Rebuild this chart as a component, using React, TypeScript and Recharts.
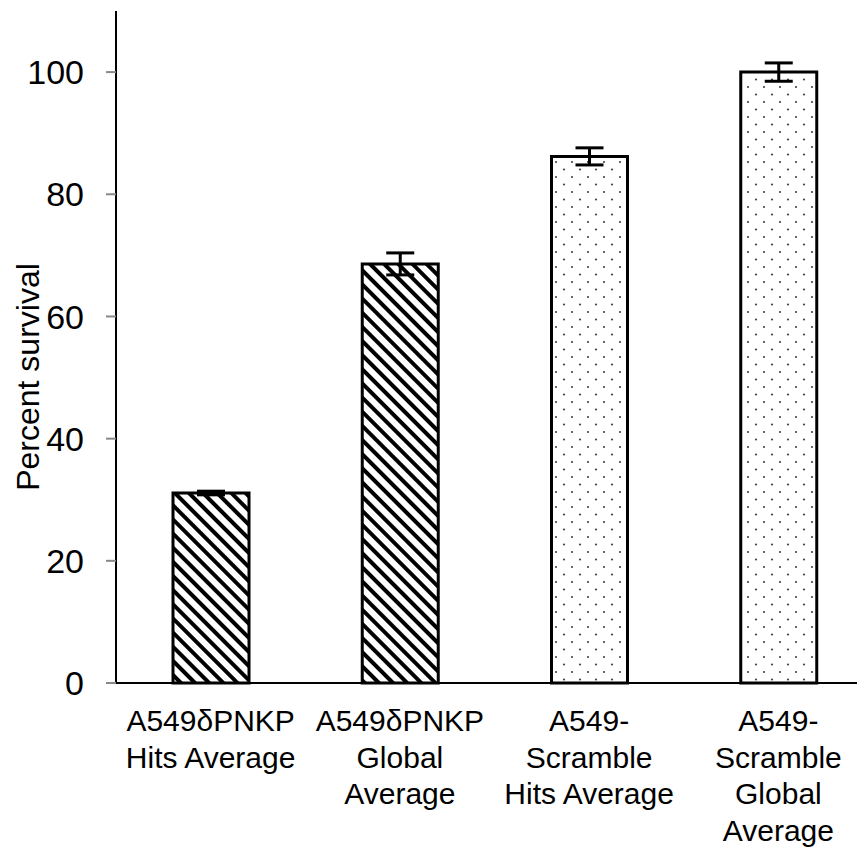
import React from 'react'
import { BarChart, Bar, XAxis, YAxis, ErrorBar, Cell, Label } from 'recharts'

// values
const categories = [
    'A549δPNKP\nHits Average',
    'A549δPNKP\nGlobal\nAverage',
    'A549-\nScramble\nHits Average',
    'A549-\nScramble\nGlobal\nAverage',
]
const survival = [31.1, 68.6, 86.2, 100]
const errors = [0.3, 1.8, 1.4, 1.5]
const fills = ['url(#hatch)', 'url(#hatch)', 'url(#dots)', 'url(#dots)']
const yTicks = [0, 20, 40, 60, 80, 100]

const data = categories.map((name, i) => ({
    name,
    value: survival[i],
    err: errors[i],
}))

const FONT = 'Liberation Sans, Arial, sans-serif'

const CategoryTick = (props: any) => {
    const { x, y, payload } = props
    const lines: string[] = String(payload.value).split('\n')
    return (
        <text x={x} y={y} textAnchor='middle' fontFamily={FONT} fontSize={30} fill='#000'>
            {lines.map((line, i) => (
                <tspan key={i} x={x} dy={i === 0 ? 40 : 36.5}>
                    {line}
                </tspan>
            ))}
        </text>
    )
}

const YTitle = (props: any) => {
    const { viewBox } = props
    const cx = viewBox.x + 20
    const cy = viewBox.y + viewBox.height / 2 + 30
    return (
        <text
            x={cx}
            y={cy}
            transform={`rotate(-90, ${cx}, ${cy})`}
            textAnchor='middle'
            dominantBaseline='central'
            fontFamily={FONT}
            fontSize={32}
            fill='#000'
        >
            Percent survival
        </text>
    )
}

export default function App() {
    return (
        <div style={{ width: 857, height: 842, overflow: 'hidden' }}>
            <BarChart
                width={870}
                height={842}
                data={data}
                margin={{ top: 3, right: 5, bottom: 0, left: 0 }}
                barSize={76}
            >
                <defs>
                    <pattern
                        id='hatch'
                        patternUnits='userSpaceOnUse'
                        width={10}
                        height={10}
                        patternTransform='rotate(45)'
                    >
                        <rect width={10} height={10} fill='#fff' />
                        <line x1={0} y1={5} x2={10} y2={5} stroke='#000' strokeWidth={4} />
                    </pattern>
                    <pattern id='dots' patternUnits='userSpaceOnUse' width={16} height={15}>
                        <rect width={16} height={15} fill='#fff' />
                        <circle cx={4} cy={4} r={1.1} fill='#444' />
                        <circle cx={12} cy={11.5} r={1.1} fill='#444' />
                    </pattern>
                </defs>
                <XAxis
                    dataKey='name'
                    interval={0}
                    axisLine={{ stroke: '#000', strokeWidth: 2 }}
                    tickLine={false}
                    tick={<CategoryTick />}
                    height={167}
                />
                <YAxis
                    domain={[0, 110]}
                    ticks={yTicks}
                    width={108}
                    axisLine={{ stroke: '#000', strokeWidth: 2 }}
                    tickLine={{ stroke: '#888', strokeWidth: 2 }}
                    tickSize={10}
                    tickMargin={22}
                    tick={{ fontFamily: FONT, fontSize: 34, fill: '#000' }}
                >
                    <Label content={<YTitle />} />
                </YAxis>
                <Bar dataKey='value' stroke='#000' strokeWidth={3} isAnimationActive={false}>
                    {data.map((d, i) => (
                        <Cell key={d.name} fill={fills[i]} />
                    ))}
                    <ErrorBar dataKey='err' width={14} stroke='#000' strokeWidth={3} />
                </Bar>
            </BarChart>
        </div>
    )
}
